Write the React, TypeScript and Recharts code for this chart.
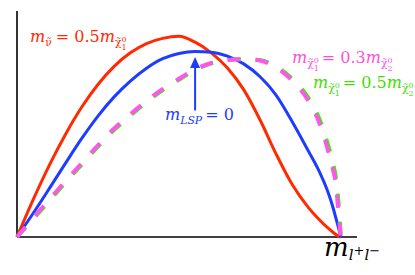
import React from "react";
import { LineChart, Line, XAxis, YAxis, ReferenceLine } from "recharts";

// x positions (fraction of the kinematic endpoint)
const xs = [0, 0.05, 0.1, 0.15, 0.2, 0.25, 0.3, 0.35, 0.4, 0.45, 0.5, 0.55, 0.6, 0.65, 0.7, 0.75, 0.8, 0.85, 0.9, 0.93, 0.96, 0.975, 0.985, 0.993, 1.0];
// red: m_sneutrino = 0.5 m_chi1
const redY = [0, 0.165, 0.318, 0.455, 0.575, 0.675, 0.755, 0.815, 0.856, 0.879, 0.888, 0.862, 0.815, 0.748, 0.652, 0.52, 0.368, 0.232, 0.13, 0.082, 0.04, 0.022, 0.011, 0.004, 0];
// blue: m_LSP = 0
const blueY = [0, 0.105, 0.215, 0.327, 0.436, 0.535, 0.62, 0.69, 0.747, 0.789, 0.812, 0.821, 0.818, 0.8, 0.766, 0.71, 0.628, 0.51, 0.38, 0.3, 0.2, 0.135, 0.083, 0.04, 0];
// magenta: m_chi1 = 0.3 m_chi2
const magentaY = [0, 0.085, 0.166, 0.248, 0.327, 0.406, 0.48, 0.543, 0.602, 0.655, 0.7, 0.742, 0.77, 0.783, 0.787, 0.781, 0.75, 0.692, 0.602, 0.518, 0.385, 0.303, 0.23, 0.105, 0];
// green: m_chi1 = 0.5 m_chi2
const greenY = [0, 0.08, 0.16, 0.242, 0.321, 0.4, 0.474, 0.537, 0.597, 0.65, 0.696, 0.739, 0.768, 0.782, 0.787, 0.783, 0.755, 0.7, 0.615, 0.535, 0.41, 0.33, 0.26, 0.15, 0];

const arrowX = 0.55;
const arrowYs = [0.56, 0.797];

const data = xs.map((x, i) => ({
  x,
  red: redY[i],
  blue: blueY[i],
  magenta: magentaY[i],
  green: greenY[i],
}));

const RED = "#ff2a00";
const BLUE = "#1e3cff";
const MAGENTA = "#ff55ee";
const GREEN = "#3cee00";
const MAGENTA_TXT = "#ff4fdc";
const GREEN_TXT = "#44dd00";
const SERIF = "'DejaVu Serif', 'Liberation Serif', serif";

const ArrowShape = (props: any) => {
  const { x1, y1, y2 } = props;
  const top = Math.min(y1, y2);
  const bottom = Math.max(y1, y2);
  const x = x1;
  return (
    <g>
      <line x1={x} y1={bottom} x2={x} y2={top + 8} stroke={BLUE} strokeWidth={2} />
      <polygon points={`${x},${top} ${x - 5},${top + 11} ${x + 5},${top + 11}`} fill={BLUE} />
    </g>
  );
};

const AxisShape = (props: any) => {
  const { x1, y1, x2, y2 } = props;
  return <line x1={x1} y1={y1} x2={x2} y2={y2} stroke="#000" strokeWidth={1.6} />;
};

// chi-tilde with stacked superscript 0 and subscript index; leaves baseline at +8
const chiParts = (sub: string, fs: number, key: string) => [
  <tspan key={key + "a"} fontSize={fs * 0.68} dy={4}>χ̃</tspan>,
  <tspan key={key + "b"} fontSize={fs * 0.5} dy={-4}>0</tspan>,
  <tspan key={key + "c"} fontSize={fs * 0.5} dx={-fs * 0.32} dy={8}>{sub}</tspan>,
];

export default function App() {
  const fs = 16;
  return (
    <div style={{ position: "absolute", left: 0, top: 0, width: 415, height: 275, background: "#fff" }}>
      <LineChart width={415} height={275} data={data} margin={{ top: 11, left: 17, right: 58, bottom: 38 }}>
        <XAxis dataKey="x" type="number" domain={[0, 1.05]} hide />
        <YAxis type="number" domain={[0, 1]} hide />
        <ReferenceLine segment={[{ x: 0, y: 0 }, { x: 1.05, y: 0 }]} shape={AxisShape} />
        <ReferenceLine segment={[{ x: 0, y: 0 }, { x: 0, y: 1 }]} shape={AxisShape} />
        <Line dataKey="red" type="monotone" stroke={RED} strokeWidth={3} dot={false} isAnimationActive={false} />
        <Line dataKey="blue" type="monotone" stroke={BLUE} strokeWidth={3} dot={false} isAnimationActive={false} />
        <Line dataKey="green" type="monotone" stroke={GREEN} strokeWidth={4} strokeDasharray="13 15" dot={false} isAnimationActive={false} />
        <Line dataKey="magenta" type="monotone" stroke={MAGENTA} strokeWidth={4} strokeDasharray="13 15" dot={false} isAnimationActive={false} />
        <ReferenceLine
          segment={[{ x: arrowX, y: arrowYs[0] }, { x: arrowX, y: arrowYs[1] }]}
          shape={ArrowShape}
        />
      </LineChart>
      <svg width={415} height={275} style={{ position: "absolute", left: 0, top: 0, pointerEvents: "none" }} fontFamily={SERIF}>
        <text x={30} y={42} fill={RED} fontSize={fs}>
          <tspan fontStyle="italic">m</tspan>
          <tspan fontSize={fs * 0.68} dy={4}>ν̃</tspan>
          <tspan dy={-4} dx={4}>= 0.5</tspan>
          <tspan fontStyle="italic">m</tspan>
          {chiParts("1", fs, "r")}
        </text>
        <text x={165} y={120} fill={BLUE} fontSize={fs}>
          <tspan fontStyle="italic">m</tspan>
          <tspan fontSize={fs * 0.68} dy={4} fontStyle="italic">LSP</tspan>
          <tspan dy={-4} dx={3}>= 0</tspan>
        </text>
        <text x={292} y={63} fill={MAGENTA_TXT} fontSize={fs}>
          <tspan fontStyle="italic">m</tspan>
          {chiParts("1", fs, "m1")}
          <tspan dx={3} dy={-8}>= 0.3</tspan>
          <tspan fontStyle="italic">m</tspan>
          {chiParts("2", fs, "m2")}
        </text>
        <text x={313} y={88} fill={GREEN_TXT} fontSize={fs}>
          <tspan fontStyle="italic">m</tspan>
          {chiParts("1", fs, "g1")}
          <tspan dx={3} dy={-8}>= 0.5</tspan>
          <tspan fontStyle="italic">m</tspan>
          {chiParts("2", fs, "g2")}
        </text>
        <text x={324} y={256} fill="#000" fontSize={26} fontStyle="italic">
          <tspan>m</tspan>
          <tspan fontSize={15} dy={4}>l</tspan>
          <tspan fontSize={13} dy={-5} fontStyle="normal">+</tspan>
          <tspan fontSize={15} dy={5}>l</tspan>
          <tspan fontSize={13} dy={-5} fontStyle="normal">−</tspan>
        </text>
      </svg>
    </div>
  );
}
